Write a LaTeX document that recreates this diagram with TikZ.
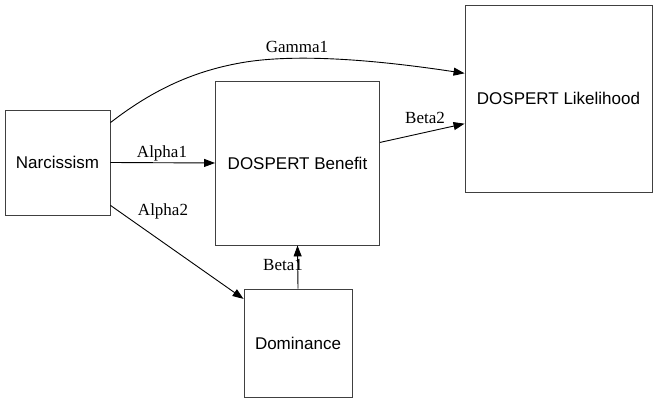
\documentclass[tikz,border=0pt]{standalone}
\usepackage{fontspec}
\setmainfont{Liberation Serif}
\newfontfamily\boxfont{Liberation Sans}
\usetikzlibrary{arrows.meta}
\begin{document}
\begin{tikzpicture}[x=1pt,y=-1pt,
  box/.style={draw=black!75,line width=0.9pt,minimum width=#1,minimum height=#1,inner sep=0pt,font=\boxfont\fontsize{17}{20}\selectfont},
  conn/.style={draw=black,line width=0.9pt,-{Triangle[length=11pt,width=8pt]}},
  lbl/.style={inner sep=0pt,anchor=base,font=\fontsize{17}{20}\selectfont}]
\useasboundingbox (0,0) rectangle (659,403);
\node[box=105] (narc) at (57.5,162.5) {Narcissism};
\node[box=164] (ben) at (297.5,163) {DOSPERT Benefit};
\node[box=187] (lik) at (558.5,98.5) {DOSPERT Likelihood};
\node[box=108] (dom) at (298,343) {Dominance};
\draw[conn] (narc.east) -- (ben.west);
\draw[conn] (narc.-39) -- (dom.141.5);
\draw[conn] (dom.north) -- (ben.south);
\draw[conn] (ben.14.3) -- (lik.-165.3);
\draw[conn] (narc.37.6) .. controls (150,92) and (190,72) .. (240,63)
  .. controls (300,52) and (390,62) .. (lik.165.9);
\node[lbl] (la1) at (162,158) {Alpha1};
\node[lbl] (la2) at (163,216) {Alpha2};
\node[lbl] (lb1) at (283,271) {Beta1};
\node[lbl] (lb2) at (425,124) {Beta2};
\node[lbl] (lg1) at (297,53) {Gamma1};
\end{tikzpicture}
\end{document}
